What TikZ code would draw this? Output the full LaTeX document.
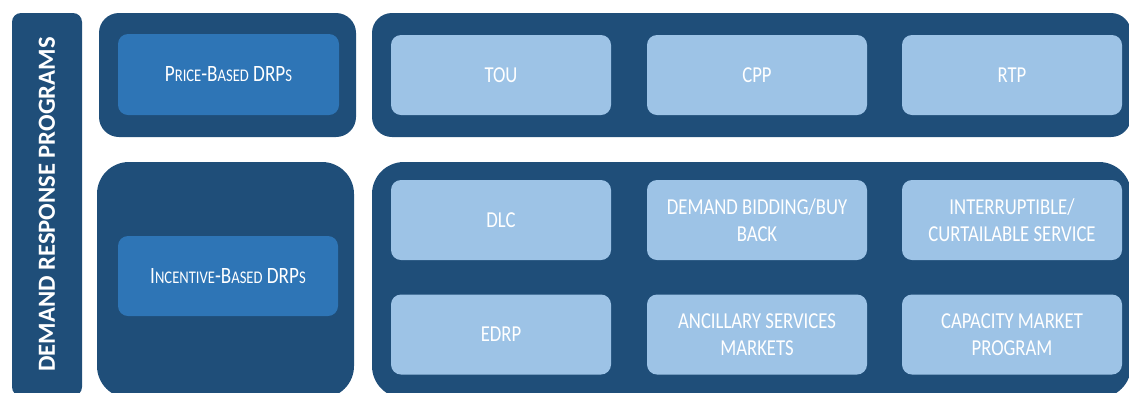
\documentclass[tikz,border=0pt]{standalone}
\usepackage{fontspec}
\setmainfont{Carlito}
\newfontfamily\boxfont[FakeStretch=0.82]{Carlito}
\definecolor{panelblue}{HTML}{1F4E79}
\definecolor{typeblue}{HTML}{2E75B6}
\definecolor{itemblue}{HTML}{9DC3E6}
\newcommand{\smallpart}[1]{{\fontsize{17.8}{21}\selectfont #1}}

\begin{document}
\begin{tikzpicture}[x=1pt,y=-1pt,
  panel/.style={fill=panelblue, draw=none, inner sep=0pt},
  typebox/.style={fill=typeblue, draw=none, rounded corners=10pt, inner sep=0pt,
    minimum width=221pt, minimum height=81pt, text=white,
    font=\boxfont\fontsize{23.4}{27}\selectfont},
  itembox/.style={fill=itemblue, draw=none, rounded corners=10pt, inner sep=0pt,
    minimum width=220pt, minimum height=80pt, text=white, align=center,
    font=\boxfont\fontsize{22.8}{26.7}\selectfont}]
\useasboundingbox (0,0) rectangle (1129,392);
\clip (0,0) rectangle (1129,392);

% left title bar
\node[panel, rounded corners=9pt, rotate=90, minimum width=383pt, minimum height=70pt,
  text=white, font=\bfseries\fontsize{24.6}{28}\selectfont] (title) at (47,204.5)
  {DEMAND RESPONSE PROGRAMS};

% program type panels
\node[panel, rounded corners=20pt, minimum width=257pt, minimum height=124pt] (pricepanel) at (227.5,75) {};
\node[panel, rounded corners=32pt, minimum width=257pt, minimum height=236pt] (incpanel) at (225.5,280) {};
\node[typebox] (price) at (228.5,74.5)
  {P\smallpart{RICE}-B\smallpart{ASED} DRP\smallpart{S}};
\node[typebox, minimum width=220pt, minimum height=80pt] (incentive) at (228,276)
  {I\smallpart{NCENTIVE}-B\smallpart{ASED} DRP\smallpart{S}};

% program panels
\node[panel, rounded corners=20pt, minimum width=759pt, minimum height=124pt] (pricelist) at (751.5,75) {};
\node[panel, rounded corners=32pt, minimum width=759pt, minimum height=236pt] (inclist) at (751.5,280) {};

% price-based programs
\node[itembox] (tou) at (501,75) {TOU};
\node[itembox] (cpp) at (757,75) {CPP};
\node[itembox] (rtp) at (1012,75) {RTP};

% incentive-based programs
\node[itembox] (dlc) at (501,220) {DLC};
\node[itembox] (dbb) at (757,220) {DEMAND BIDDING/BUY\\BACK};
\node[itembox] (ics) at (1012,220) {INTERRUPTIBLE/\\CURTAILABLE SERVICE};
\node[itembox] (edrp) at (501,334.5) {EDRP};
\node[itembox] (asm) at (757,334.5) {ANCILLARY SERVICES\\MARKETS};
\node[itembox] (cmp) at (1012,334.5) {CAPACITY MARKET\\PROGRAM};
\end{tikzpicture}
\end{document}
